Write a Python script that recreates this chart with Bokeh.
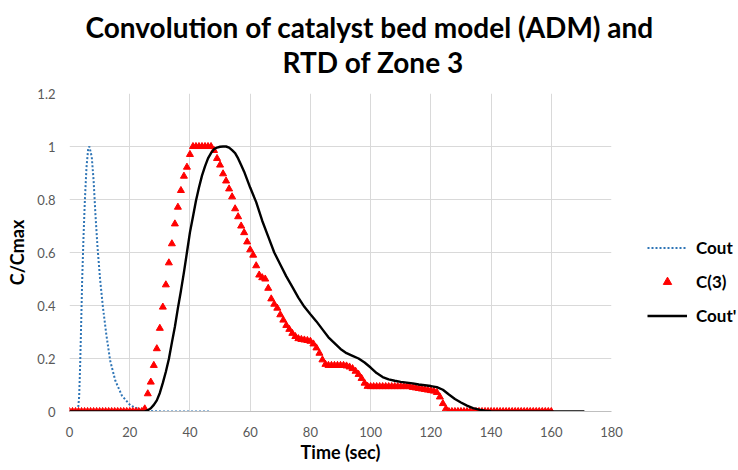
from bokeh.plotting import figure
from bokeh.models import Legend, LegendItem, FixedTicker, Range1d, Title
from bokeh.embed import file_html
from bokeh.resources import INLINE

# ---- data ----
cout_t = [0, 1, 2, 2.8, 3.2, 3.55, 3.9, 4.2, 4.65, 5.1, 5.65, 6.2, 6.6, 7.4, 8.0, 8.6,
          9.3, 10.2, 11.1, 12.2, 13.5, 15.2, 17.4, 20.2, 23.5, 27.9, 32, 38, 46.5]
cout_c = [0, 0, 0, 0.005, 0.054, 0.18, 0.343, 0.494, 0.658, 0.796, 0.922, 0.991, 1.0,
          0.96, 0.872, 0.746, 0.62, 0.494, 0.394, 0.293, 0.192, 0.117, 0.06, 0.023,
          0.006, 0.001, 0, 0, 0]

c3_t = list(range(0, 161))
c3_c = ([0] * 25 +
        [0.01, 0.067, 0.111, 0.174, 0.237, 0.314, 0.394, 0.478, 0.561, 0.633,
         0.708, 0.771, 0.834, 0.888, 0.922, 0.97,
         1.0, 1.0, 1.0, 1.0, 1.0, 1.0, 1.0,
         0.985, 0.955, 0.93, 0.897, 0.87, 0.84, 0.81, 0.765, 0.735, 0.70,
         0.675, 0.64, 0.61, 0.59, 0.55, 0.515, 0.505, 0.50, 0.465, 0.425,
         0.405, 0.39, 0.365, 0.345, 0.325, 0.31, 0.295, 0.283, 0.275, 0.272,
         0.27, 0.268, 0.265, 0.255, 0.24, 0.22, 0.195, 0.178,
         0.174, 0.174, 0.174, 0.174, 0.174, 0.174, 0.172, 0.168, 0.162, 0.152,
         0.14, 0.125, 0.107, 0.095] +
        [0.094] * 14 +
        [0.091, 0.089, 0.087, 0.085, 0.083, 0.081, 0.079, 0.077, 0.072, 0.055,
         0.03, 0.01] +
        [0] * 35)

coutp_t = [0, 25, 26, 27, 28, 29, 30, 31, 32, 33, 34, 35, 36, 37, 38, 39, 40, 41, 42,
           43, 44, 45, 46, 47, 48, 49, 50, 51, 52, 53, 54, 55, 56, 57, 58, 59, 60, 62,
           64, 66, 68, 70, 72, 74, 76, 78, 80, 82, 84, 86, 88, 90, 92, 94, 96, 98, 100,
           102, 104, 106, 108, 110, 112, 114, 116, 118, 120, 122, 124, 126, 128, 130,
           132, 134, 136, 138, 140, 150, 160, 171]
coutp_c = [0, 0, 0.005, 0.012, 0.025, 0.042, 0.07, 0.108, 0.15, 0.198, 0.26, 0.32,
           0.39, 0.455, 0.525, 0.6, 0.676, 0.735, 0.795, 0.845, 0.89, 0.925, 0.955,
           0.975, 0.99, 0.996, 0.999, 1.0, 1.0, 0.996, 0.986, 0.975, 0.955, 0.93,
           0.905, 0.875, 0.845, 0.79, 0.72, 0.66, 0.6, 0.555, 0.51, 0.47, 0.43, 0.395,
           0.367, 0.34, 0.31, 0.28, 0.258, 0.236, 0.22, 0.21, 0.2, 0.185, 0.166, 0.145,
           0.13, 0.121, 0.116, 0.112, 0.109, 0.106, 0.102, 0.099, 0.096, 0.092, 0.082,
           0.064, 0.047, 0.034, 0.022, 0.013, 0.007, 0.003, 0.001, 0, 0, 0]

x_ticks = [0, 20, 40, 60, 80, 100, 120, 140, 160, 180]
y_ticks = [0, 0.2, 0.4, 0.6, 0.8, 1.0, 1.2]
y_tick_labels = ["0", "0.2", "0.4", "0.6", "0.8", "1", "1.2"]

title_lines = ["Convolution of catalyst bed model (ADM) and", "RTD of Zone 3"]
x_title = "Time (sec)"
y_title = "C/Cmax"
series_names = ["Cout", "C(3)", "Cout'"]

FONT = "Lato"

p = figure(frame_width=542, frame_height=318,
           x_range=Range1d(0, 180), y_range=Range1d(0, 1.2),
           output_backend="svg", toolbar_location=None, title=None,
           min_border_left=69, min_border_right=127, min_border_top=93,
           min_border_bottom=59)
p.outline_line_color = None
p.background_fill_color = "white"
p.border_fill_color = "white"

p.xaxis.ticker = FixedTicker(ticks=x_ticks)
p.yaxis.ticker = FixedTicker(ticks=y_ticks)
p.yaxis.major_label_overrides = {t: l for t, l in zip(y_ticks, y_tick_labels)}
for ax in (p.xaxis, p.yaxis):
    ax.major_tick_line_color = None
    ax.minor_tick_line_color = None
    ax.major_label_text_font = FONT
    ax.major_label_text_font_size = "13px"
    ax.major_label_text_color = "#595959"
    ax.axis_label_text_font = FONT
    ax.axis_label_text_font_style = "bold"
    ax.axis_label_text_font_size = "18px"
    ax.axis_label_text_color = "black"
p.xaxis.axis_line_color = "#bfbfbf"
p.yaxis.axis_line_color = None
p.xaxis.major_label_standoff = 9
p.yaxis.major_label_standoff = 8
p.xaxis.axis_label = x_title
p.yaxis.axis_label = y_title
p.xaxis.axis_label_standoff = 1
p.yaxis.axis_label_standoff = 6

p.xgrid.ticker = FixedTicker(ticks=x_ticks)
p.ygrid.ticker = FixedTicker(ticks=y_ticks)
p.xgrid.grid_line_color = "#d9d9d9"
p.ygrid.grid_line_color = "#d9d9d9"

r1 = p.line(cout_t, cout_c, line_color="#2e75b6", line_width=2, line_dash="2 2")
r2 = p.scatter(c3_t, c3_c, marker="triangle", size=7, fill_color="#ff0000",
               line_color="#ff0000")
r3 = p.line(coutp_t, coutp_c, line_color="black", line_width=2.4)

legend = Legend(items=[LegendItem(label=series_names[0], renderers=[r1]),
                       LegendItem(label=series_names[1], renderers=[r2]),
                       LegendItem(label=series_names[2], renderers=[r3])],
                location=(36, 85), glyph_width=40, glyph_height=21,
                label_height=21, spacing=13, label_standoff=9, padding=0, margin=0,
                border_line_color=None, background_fill_alpha=0,
                label_text_font=FONT, label_text_font_style="bold",
                label_text_font_size="17px", label_text_color="black")
p.add_layout(legend, "right")

# title: second line nearest the frame, first line above it
p.add_layout(Title(text=title_lines[1], align="left", offset=213,
                   vertical_align="middle", standoff=28, text_font=FONT,
                   text_font_style="bold", text_font_size="28px",
                   text_color="black"), "above")
p.add_layout(Title(text=title_lines[0], align="left", offset=16,
                   vertical_align="bottom", standoff=-28, text_font=FONT,
                   text_font_style="bold", text_font_size="28px",
                   text_color="black"), "above")

open("out.html", "w").write(file_html(p, INLINE))
